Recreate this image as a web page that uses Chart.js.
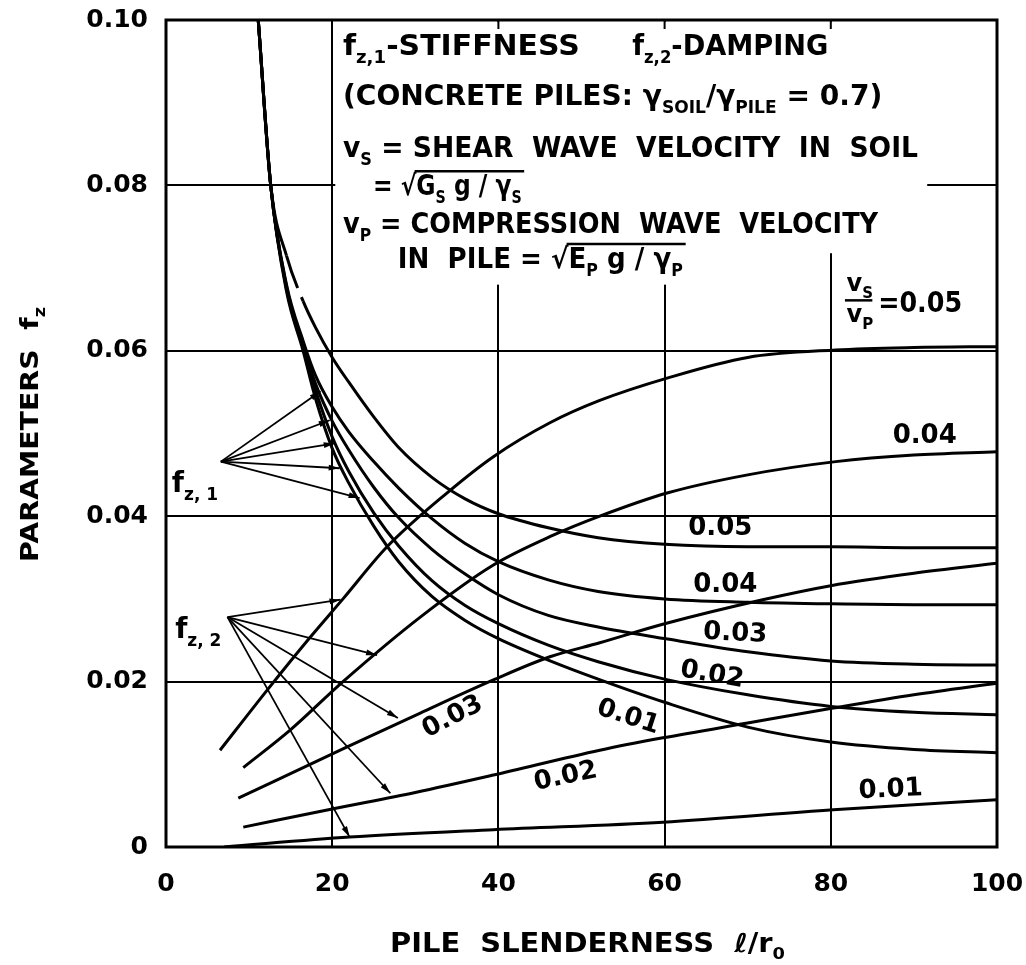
<!DOCTYPE html>
<html>
<head>
<meta charset="utf-8">
<title>Parameters f_z vs pile slenderness</title>
<script src="https://cdn.jsdelivr.net/npm/chart.js@4.4.1/dist/chart.umd.min.js"></script>
<style>
  html, body { margin: 0; padding: 0; background: #fff; }
  canvas { display: block; }
</style>
</head>
<body>
<canvas id="chart" width="1026" height="965"></canvas>
<script>
// Vertical pile parameters f_z,1 (stiffness) and f_z,2 (damping) against l/r0,
// one curve per vs/vp ratio.

const X_TICKS = [0, 20, 40, 60, 80, 100];
const Y_TICK_LABELS = ["0", "0.02", "0.04", "0.06", "0.08", "0.10"];
const RATIOS = ["0.01", "0.02", "0.03", "0.04", "0.05"];

// stiffness curves share one x grid
const STIFF_X   = [11.1, 12.6, 14.5, 16.5, 18, 20, 22, 25, 28, 32, 36, 40, 46, 52, 60, 70, 80, 90, 100];
const STIFF_005 = [0.100, 0.080, 0.0715, 0.0660, 0.0628, 0.0592, 0.0562, 0.0520, 0.0483, 0.0447, 0.0421, 0.0403, 0.0386, 0.0374, 0.0366, 0.0363, 0.0363, 0.0362, 0.0362];
const STIFF_004 = [0.100, 0.080, 0.0680, 0.0612, 0.0570, 0.0532, 0.0502, 0.0466, 0.0434, 0.0397, 0.0367, 0.0345, 0.0323, 0.0309, 0.0300, 0.0296, 0.0294, 0.0293, 0.0293];
const STIFF_003 = [0.100, 0.080, 0.0678, 0.0607, 0.0560, 0.0515, 0.0480, 0.0435, 0.0398, 0.0360, 0.0330, 0.0305, 0.0280, 0.0266, 0.0252, 0.0236, 0.0225, 0.0221, 0.0220];
const STIFF_002 = [0.100, 0.080, 0.0675, 0.0604, 0.0552, 0.0496, 0.0454, 0.0404, 0.0364, 0.0322, 0.0292, 0.0270, 0.0244, 0.0224, 0.0203, 0.0184, 0.0170, 0.0163, 0.0160];
const STIFF_001 = [0.100, 0.080, 0.0672, 0.0600, 0.0542, 0.0482, 0.0440, 0.0388, 0.0345, 0.0303, 0.0274, 0.0252, 0.0226, 0.0203, 0.0175, 0.0145, 0.0127, 0.0118, 0.0114];

// damping curves start at different l/r0
const DAMP_005_X = [6.5, 12.2, 17.3, 21.3, 26.6, 33.8, 39.4, 46.2, 52.2, 60.3, 70, 80.6, 90, 100];
const DAMP_005   = [0.0117, 0.0190, 0.0253, 0.0300, 0.0363, 0.0428, 0.0472, 0.0513, 0.0540, 0.0567, 0.0592, 0.0601, 0.0604, 0.0605];
const DAMP_004_X = [9.3, 14.9, 21.3, 30.6, 39.4, 46.6, 52.2, 60.3, 70, 80.6, 90, 100];
const DAMP_004   = [0.0096, 0.0141, 0.0200, 0.0278, 0.0341, 0.0377, 0.0400, 0.0428, 0.0450, 0.0466, 0.0474, 0.0478];
const DAMP_003_X = [8.7, 21.8, 30.6, 39.4, 46.2, 52.2, 60, 71.8, 80, 90, 100];
const DAMP_003   = [0.0059, 0.0121, 0.0162, 0.0202, 0.0230, 0.0247, 0.0270, 0.0299, 0.0316, 0.0331, 0.0343];
const DAMP_002_X = [9.3, 20, 30, 39.4, 52.2, 59.8, 70, 80.3, 90, 100];
const DAMP_002   = [0.0024, 0.0046, 0.0066, 0.0087, 0.0117, 0.0132, 0.0150, 0.0168, 0.0184, 0.0198];
const DAMP_001_X = [7, 22.1, 39.4, 59.8, 80.3, 100];
const DAMP_001   = [0.0000, 0.0012, 0.0021, 0.0030, 0.0045, 0.0057];

const FAMILY = '"DejaVu Sans", sans-serif';
const font = (size) => `bold ${size}px ${FAMILY}`;

const pts = (xs, ys) => xs.map((v, i) => ({ x: v, y: ys[i] }));
const curve = (label, xs, ys, extra) => Object.assign({
  label, data: pts(xs, ys),
  borderColor: "#000", borderWidth: 3, pointRadius: 0, fill: false,
  cubicInterpolationMode: "monotone",
}, extra);

// runs of [text, kind]: 'n' normal, 's' subscript, 'q' radical sign (bar runs to the end)
function drawRuns(ctx, x, y, runs, size, right) {
  const sub = Math.round(size * 0.62);
  let w = 0;
  for (const [t, k] of runs) { ctx.font = font(k === "s" ? sub : size); w += ctx.measureText(t).width; }
  const sx = right ? (right - x) / w : 1;
  ctx.save();
  ctx.translate(x, y);
  ctx.scale(sx, 1);
  ctx.textBaseline = "alphabetic";
  ctx.textAlign = "left";
  let cx = 0, bar = null;
  for (const [t, k] of runs) {
    ctx.font = font(k === "s" ? sub : size);
    ctx.fillText(t, cx, k === "s" ? size * 0.28 : 0);
    cx += ctx.measureText(t).width;
    if (k === "q") bar = cx - 2;
  }
  if (bar !== null) {
    ctx.lineWidth = 2.5;
    ctx.beginPath();
    ctx.moveTo(bar, -size * 0.86);
    ctx.lineTo(cx + 3, -size * 0.86);
    ctx.stroke();
  }
  ctx.restore();
}

function arrow(ctx, x0, y0, x1, y1) {
  ctx.beginPath(); ctx.moveTo(x0, y0); ctx.lineTo(x1, y1); ctx.stroke();
  const a = Math.atan2(y1 - y0, x1 - x0), L = 11, W = 3;
  ctx.beginPath();
  ctx.moveTo(x1, y1);
  ctx.lineTo(x1 - L * Math.cos(a) + W * Math.sin(a), y1 - L * Math.sin(a) - W * Math.cos(a));
  ctx.lineTo(x1 - L * Math.cos(a) - W * Math.sin(a), y1 - L * Math.sin(a) + W * Math.cos(a));
  ctx.closePath();
  ctx.fill();
}

const NOTE_LINES = [
  { at: [21.3, 0.0958], to: 49.8, runs: [["f", "n"], ["z,1", "s"], ["-STIFFNESS", "n"]] },
  { at: [56.1, 0.0958], to: 79.7, runs: [["f", "n"], ["z,2", "s"], ["-DAMPING", "n"]] },
  { at: [21.3, 0.0897], to: 86.2, runs: [["(CONCRETE PILES: ", "n"], ["γ", "n"], ["SOIL", "s"], ["/", "n"], ["γ", "n"], ["PILE", "s"], [" = 0.7)", "n"]] },
  { at: [21.3, 0.0834], to: 90.5, runs: [["v", "n"], ["S", "s"], [" = SHEAR  WAVE  VELOCITY  IN  SOIL", "n"]] },
  { at: [24.9, 0.0788], to: 42.8, runs: [["= ", "n"], ["√", "q"], ["G", "n"], ["S", "s"], [" g / ", "n"], ["γ", "n"], ["S", "s"]] },
  { at: [21.3, 0.0742], to: 85.7, runs: [["v", "n"], ["P", "s"], [" = COMPRESSION  WAVE  VELOCITY", "n"]] },
  { at: [27.9, 0.0700], to: 62.2, runs: [["IN  PILE = ", "n"], ["√", "q"], ["E", "n"], ["P", "s"], [" g / ", "n"], ["γ", "n"], ["P", "s"]] },
];

// [text, x, y, rotation in degrees]
const CURVE_LABELS = [
  [RATIOS[3], 91.3, 0.0497, 0],
  [RATIOS[4], 66.7, 0.0385, 0],
  [RATIOS[3], 67.3, 0.0316, 0],
  [RATIOS[2], 68.5, 0.0258, 3],
  [RATIOS[1], 65.7, 0.0208, 10],
  [RATIOS[0], 55.6, 0.0157, 18],
  [RATIOS[2], 34.5, 0.0157, -27],
  [RATIOS[1], 48.1, 0.0085, -12],
  [RATIOS[0], 87.2, 0.0069, -3],
];

const FZ1_FROM = [6.6, 0.0466];
const FZ1_TO = [[18.6, 0.0551], [19.7, 0.0516], [20.3, 0.0488], [20.9, 0.0458], [23.3, 0.0422]];
const FZ2_FROM = [7.4, 0.0278];
const FZ2_TO = [[21.0, 0.0299], [25.4, 0.0232], [27.9, 0.0156], [27.0, 0.0065], [22.1, 0.0012]];

const notes = {
  id: "notes",
  beforeDatasetsDraw(chart) {
    const { ctx, chartArea: a, scales: { x, y } } = chart;
    ctx.save();
    // the text panel interrupts the grid
    ctx.fillStyle = "#fff";
    const l = x.getPixelForValue(20.4);
    ctx.fillRect(l, a.top + 2, x.getPixelForValue(91.6) - l, y.getPixelForValue(0.0718) - a.top - 2);
    ctx.fillRect(l, a.top + 2, x.getPixelForValue(75) - l, y.getPixelForValue(0.068) - a.top - 2);
    ctx.strokeStyle = "#000";
    ctx.lineWidth = 2;
    for (const v of [40, 60, 80]) {
      const px = x.getPixelForValue(v);
      ctx.beginPath(); ctx.moveTo(px, a.top); ctx.lineTo(px, a.top + 9); ctx.stroke();
    }
    ctx.lineWidth = 3;
    ctx.strokeRect(a.left, a.top, a.width, a.height);
    ctx.restore();
  },
  afterDraw(chart) {
    const { ctx, scales: { x, y } } = chart;
    const P = (xv, yv) => [x.getPixelForValue(xv), y.getPixelForValue(yv)];
    ctx.save();
    ctx.fillStyle = "#000";
    ctx.strokeStyle = "#000";

    for (const line of NOTE_LINES) {
      const [px, py] = P(line.at[0], line.at[1]);
      drawRuns(ctx, px, py, line.runs, 28, x.getPixelForValue(line.to));
    }

    // vs / vp = 0.05
    let [px, py] = P(81.9, 0.0672);
    drawRuns(ctx, px, py, [["v", "n"], ["S", "s"]], 24);
    [px, py] = P(81.9, 0.0635);
    drawRuns(ctx, px, py, [["v", "n"], ["P", "s"]], 24);
    const [b0, by] = P(81.7, 0.0661), [b1] = P(85.0, 0);
    ctx.lineWidth = 2.5;
    ctx.beginPath(); ctx.moveTo(b0, by); ctx.lineTo(b1, by); ctx.stroke();
    [px, py] = P(85.7, 0.0647);
    drawRuns(ctx, px, py, [["=0.05", "n"]], 28, x.getPixelForValue(95.8));

    ctx.font = font(26);
    ctx.textAlign = "center";
    ctx.textBaseline = "middle";
    for (const [t, xv, yv, rot] of CURVE_LABELS) {
      const [cx, cy] = P(xv, yv);
      ctx.save();
      ctx.translate(cx, cy);
      ctx.rotate(rot * Math.PI / 180);
      ctx.fillText(t, 0, 0);
      ctx.restore();
    }

    ctx.lineWidth = 1.8;
    const [f1x, f1y] = P(FZ1_FROM[0], FZ1_FROM[1]);
    for (const [tx, ty] of FZ1_TO) { const [ax, ay] = P(tx, ty); arrow(ctx, f1x, f1y, ax, ay); }
    const [f2x, f2y] = P(FZ2_FROM[0], FZ2_FROM[1]);
    for (const [tx, ty] of FZ2_TO) { const [ax, ay] = P(tx, ty); arrow(ctx, f2x, f2y, ax, ay); }

    [px, py] = P(0.7, 0.0429);
    drawRuns(ctx, px, py, [["f", "n"], ["z, 1", "s"]], 28);
    [px, py] = P(1.1, 0.0253);
    drawRuns(ctx, px, py, [["f", "n"], ["z, 2", "s"]], 28);

    // axis titles
    drawRuns(ctx, 390, 952, [["PILE  SLENDERNESS  ", "n"], ["ℓ", "n"], ["/r", "n"], ["0", "s"]], 26, 785);
    ctx.save();
    ctx.translate(38, 562);
    ctx.rotate(-Math.PI / 2);
    drawRuns(ctx, 0, 0, [["PARAMETERS  f", "n"], ["z", "s"]], 24, 255);
    ctx.restore();

    ctx.restore();
  },
};

new Chart(document.getElementById("chart"), {
  type: "line",
  data: {
    datasets: [
      curve("f_z,1 vs/vp=0.05", STIFF_X, STIFF_005, {
        segment: { borderDash: (c) => (c.p0.parsed.x >= 14.4 && c.p0.parsed.x < 16 ? [34, 10] : undefined) },
      }),
      curve("f_z,1 vs/vp=0.04", STIFF_X, STIFF_004),
      curve("f_z,1 vs/vp=0.03", STIFF_X, STIFF_003),
      curve("f_z,1 vs/vp=0.02", STIFF_X, STIFF_002),
      curve("f_z,1 vs/vp=0.01", STIFF_X, STIFF_001),
      curve("f_z,2 vs/vp=0.05", DAMP_005_X, DAMP_005),
      curve("f_z,2 vs/vp=0.04", DAMP_004_X, DAMP_004),
      curve("f_z,2 vs/vp=0.03", DAMP_003_X, DAMP_003),
      curve("f_z,2 vs/vp=0.02", DAMP_002_X, DAMP_002),
      curve("f_z,2 vs/vp=0.01", DAMP_001_X, DAMP_001),
    ],
  },
  options: {
    responsive: false,
    animation: false,
    layout: { padding: { top: 20, right: 29, left: 0, bottom: 0 } },
    plugins: { legend: { display: false }, tooltip: { enabled: false } },
    scales: {
      x: {
        type: "linear", min: 0, max: 100,
        afterBuildTicks: (s) => { s.ticks = X_TICKS.map((v) => ({ value: v })); },
        afterFit: (s) => { s.height = 118; s.paddingLeft = 0; s.paddingRight = 0; },
        ticks: { color: "#000", padding: 22, font: { family: FAMILY, size: 25, weight: "bold" } },
        grid: { color: "#000", lineWidth: 2, drawTicks: false },
        border: { display: false },
      },
      y: {
        type: "linear", min: 0, max: 0.1,
        ticks: {
          stepSize: 0.02, color: "#000", padding: 18,
          font: { family: FAMILY, size: 25, weight: "bold" },
          callback: (v, i) => Y_TICK_LABELS[i],
        },
        afterFit: (s) => { s.width = 166; s.paddingTop = 0; s.paddingBottom = 0; },
        grid: { color: "#000", lineWidth: 2, drawTicks: false },
        border: { display: false },
      },
    },
  },
  plugins: [notes],
});
</script>
</body>
</html>
